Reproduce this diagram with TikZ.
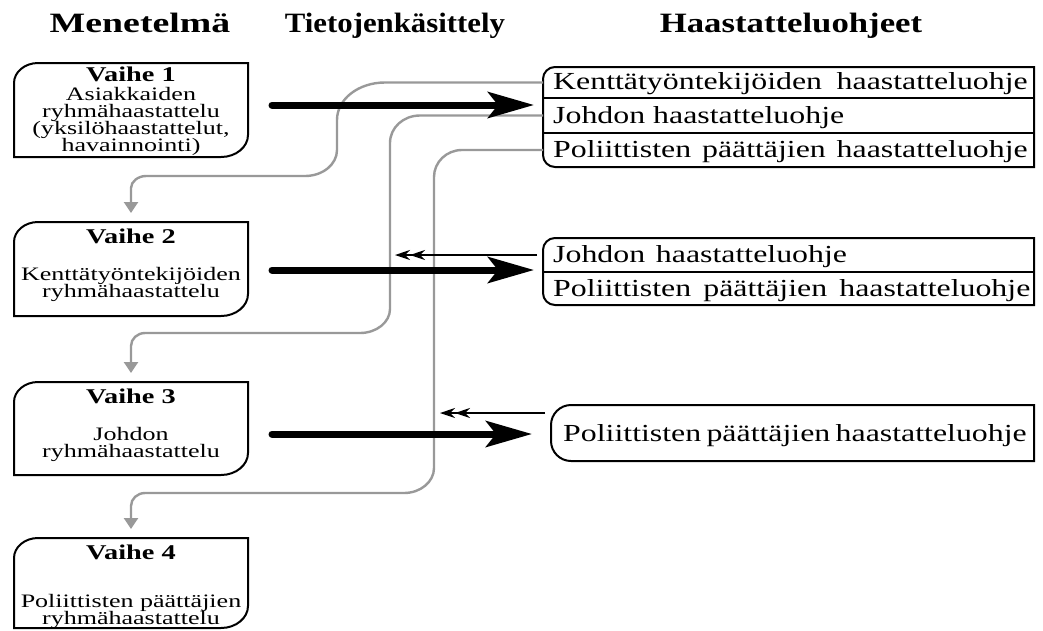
\documentclass[tikz,border=0pt]{standalone}
\usepackage{fontspec}
\setmainfont{Liberation Serif}
\usepackage{graphicx}
\usetikzlibrary{arrows.meta,calc}
\newcommand\sx[2][1.3]{\scalebox{#1}[1]{#2}}
\newcommand\lbox[1]{%
\draw[boxline] (#1.south west) -- ([yshift=-20pt]#1.north west)
 .. controls ([yshift=-9pt]#1.north west) and ([xshift=10.8pt]#1.north west) .. ([xshift=24pt]#1.north west)
 -- (#1.north east) -- ([yshift=22pt]#1.south east)
 .. controls ([yshift=10pt]#1.south east) and ([xshift=-12pt]#1.south east) .. ([xshift=-27pt]#1.south east)
 -- cycle;}
\newcommand\rbox[2]{%
\draw[boxline] (#1.north east) -- ([xshift=#2]#1.north west)
 .. controls ([xshift=0.45*#2]#1.north west) and ([yshift=-0.45*#2]#1.north west) .. ([yshift=-#2]#1.north west)
 -- ([yshift=#2]#1.south west)
 .. controls ([yshift=0.45*#2]#1.south west) and ([xshift=0.45*#2]#1.south west) .. ([xshift=#2]#1.south west)
 -- (#1.south east) -- cycle;}
\begin{document}
\begin{tikzpicture}[x=1pt,y=-1pt,
 boxline/.style={draw=black,line width=2pt},
 divline/.style={draw=black,line width=1.4pt},
 area/.style={inner sep=0pt,outer sep=0pt,draw=none},
 head/.style={font=\fontsize{28pt}{30pt}\selectfont\bfseries,anchor=base,inner sep=0pt},
 title/.style={font=\fontsize{21pt}{21pt}\selectfont\bfseries,anchor=base,inner sep=0pt},
 body/.style={font=\fontsize{19pt}{17pt}\selectfont,anchor=base,inner sep=0pt},
 rowtext/.style={font=\fontsize{24.5pt}{26pt}\selectfont,anchor=base west,inner sep=0pt},
 thickarrow/.style={line width=7pt,line cap=round,-{Stealth[length=46pt,width=26pt,inset=10pt]}},
 backarrow/.style={line width=1.8pt,-{Stealth[length=15pt,width=10pt]Stealth[length=15pt,width=10pt]}},
 flow/.style={draw=black!40,line width=2.4pt,-{Triangle[length=11pt,width=14pt]}},
]
\useasboundingbox[fill=white] (0,0) rectangle (1043,630);

% headers
\node[head] (h1) at (140,32) {\sx[1.35]{Menetelmä}};
\node[head] (h2) at (395,32) {\sx[1.1]{Tietojenkäsittely}};
\node[head] (h3) at (791,32) {\sx[1.24]{Haastatteluohjeet}};

% left boxes
\node[area,minimum width=234pt,minimum height=94pt] (b1) at (131,110) {};
\node[area,minimum width=234pt,minimum height=94pt] (b2) at (131,269) {};
\node[area,minimum width=234pt,minimum height=93pt] (b3) at (131,428.5) {};
\node[area,minimum width=234pt,minimum height=90pt] (b4) at (131,583) {};
\lbox{b1}\lbox{b2}\lbox{b3}\lbox{b4}

\node[title] (b1t) at (131,81.5) {\sx[1.35]{Vaihe 1}};
\node[body] (b1l1) at (131,100.5) {\sx[1.37]{Asiakkaiden}};
\node[body] (b1l2) at (131,117.5) {\sx[1.37]{ryhmähaastattelu}};
\node[body] (b1l3) at (131,134.5) {\sx[1.37]{(yksilöhaastattelut,}};
\node[body] (b1l4) at (131,151.5) {\sx[1.37]{havainnointi)}};

\node[title] (b2t) at (131,243) {\sx[1.35]{Vaihe 2}};
\node[body] (b2l1) at (131,280) {\sx[1.37]{Kenttätyöntekijöiden}};
\node[body] (b2l2) at (131,297) {\sx[1.37]{ryhmähaastattelu}};

\node[title] (b3t) at (131,403) {\sx[1.35]{Vaihe 3}};
\node[body] (b3l1) at (131,440) {\sx[1.37]{Johdon}};
\node[body] (b3l2) at (131,457) {\sx[1.37]{ryhmähaastattelu}};

\node[title] (b4t) at (131,559) {\sx[1.35]{Vaihe 4}};
\node[body] (b4l1) at (131,607) {\sx[1.37]{Poliittisten päättäjien}};
\node[body] (b4l2) at (131,624) {\sx[1.37]{ryhmähaastattelu}};

% right boxes
\node[area,minimum width=491pt,minimum height=100pt] (r1) at (788.5,117) {};
\node[area,minimum width=491pt,minimum height=31pt] (r1a) at (788.5,82.5) {};
\node[area,minimum width=491pt,minimum height=35pt] (r1b) at (788.5,115.5) {};
\node[area,minimum width=491pt,minimum height=34pt] (r1c) at (788.5,150) {};
\rbox{r1}{12pt}
\draw[divline] (r1a.south west) -- (r1a.south east);
\draw[divline] (r1b.south west) -- (r1b.south east);
\node[rowtext] (t1a) at (553,89) {\sx{\makebox[365pt][s]{Kenttätyöntekijöiden haastatteluohje}}};
\node[rowtext] (t1b) at (553,123) {\sx{Johdon haastatteluohje}};
\node[rowtext] (t1c) at (553,157) {\sx{\makebox[365pt][s]{Poliittisten päättäjien haastatteluohje}}};

\node[area,minimum width=491pt,minimum height=67pt] (r2) at (788.5,271.5) {};
\node[area,minimum width=491pt,minimum height=34pt] (r2a) at (788.5,255) {};
\node[area,minimum width=491pt,minimum height=33pt] (r2b) at (788.5,288.5) {};
\rbox{r2}{12pt}
\draw[divline] (r2a.south west) -- (r2a.south east);
\node[rowtext] (t2a) at (553,262) {\sx{\makebox[226pt][s]{Johdon haastatteluohje}}};
\node[rowtext] (t2b) at (553,296) {\sx{\makebox[367pt][s]{Poliittisten päättäjien haastatteluohje}}};

\node[area,minimum width=483pt,minimum height=56pt] (r3) at (792.5,433) {};
\rbox{r3}{20pt}
\node[rowtext] (t3) at (563,441) {\sx{\makebox[355pt][s]{Poliittisten päättäjien haastatteluohje}}};

% grey flow lines
\draw[flow] (r1a.west) -- (385,82.5) .. controls (358.5,82.5) and (337,99) .. (337,120)
  -- (337,150) .. controls (337,164.4) and (322.7,176) .. (305,176)
  -- (146,176) .. controls (138.3,176) and (131,181.4) .. (131,188) -- ([yshift=9pt]b2.north);
\draw[flow] (r1b.west) -- (420,115.5) .. controls (403.4,115.5) and (390,127.5) .. (390,143)
  -- (390,309) .. controls (390,322.2) and (376.6,333) .. (360,333)
  -- (145,333) .. controls (137.3,333) and (131,338.8) .. (131,346) -- ([yshift=9pt]b3.north);
\draw[flow] (r1c.west) -- (462,150) .. controls (446.5,150) and (434,162.1) .. (434,177)
  -- (434,468) .. controls (434,481.8) and (420.6,493) .. (404,493)
  -- (145,493) .. controls (137.3,493) and (131,498.8) .. (131,506) -- ([yshift=9pt]b4.north);

% thick arrows
\draw[thickarrow] ($(b1.east)+(24,-5)$) -- ($(b1.east -| r1.west)+(-9,-5)$);
\draw[thickarrow] ($(b2.east)+(24,1)$) -- ($(b2.east -| r2.west)+(-9,1)$);
\draw[thickarrow] ($(b3.east)+(24,5.5)$) -- ($(b3.east -| r3.west)+(-19,5.5)$);

% back arrows
\draw[backarrow] ($(r2a.west)+(-6,0)$) -- ($(r2a.west)+(-148,0)$);
\draw[backarrow] ($(r3.west)+(-6,-20)$) -- ($(r3.west)+(-111,-20)$);
\end{tikzpicture}
\end{document}
